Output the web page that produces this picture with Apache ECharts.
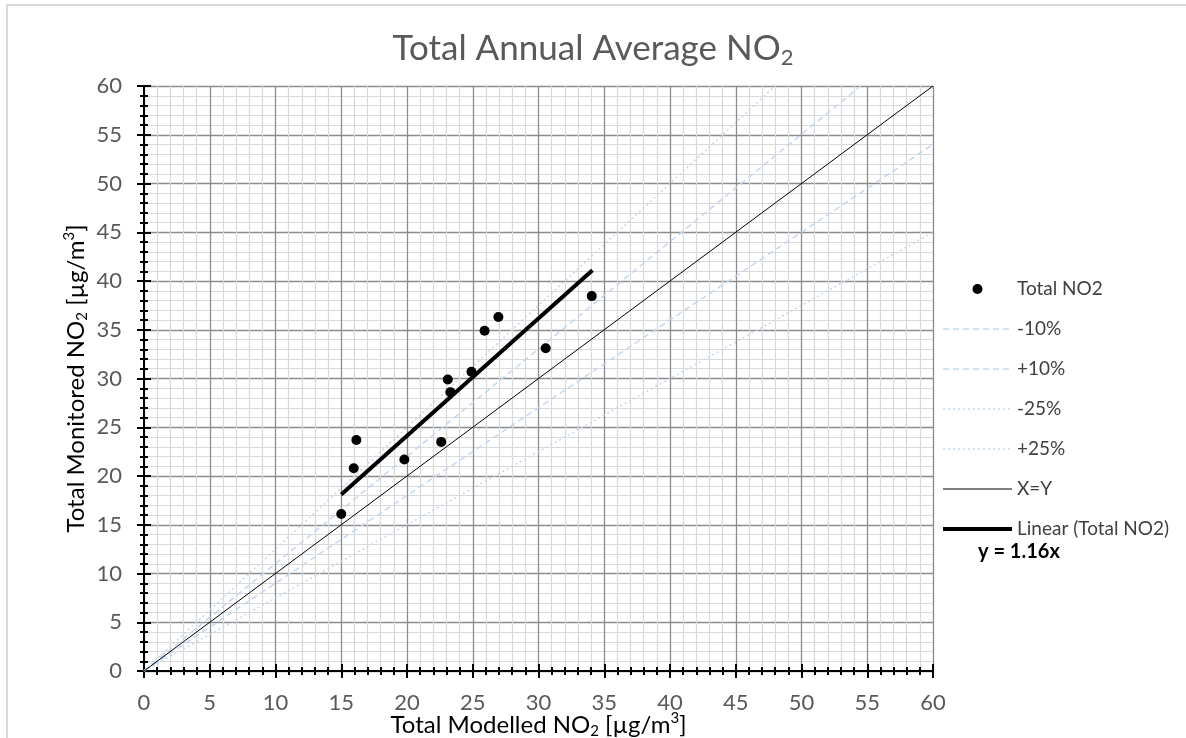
<!DOCTYPE html>
<html>
<head>
<meta charset="utf-8">
<script src="https://cdn.jsdelivr.net/npm/echarts@6/dist/echarts.min.js"></script>
<style>
  html, body { margin: 0; padding: 0; background: #fff; }
  #chart { width: 1186px; height: 738px; }
</style>
</head>
<body>
<div id="chart"></div>
<script>
// measured points (x = modelled, y = monitored)
const modelled = [15.0, 15.95, 16.15, 19.8, 22.6, 23.1, 23.3, 24.9, 25.9, 26.95, 30.55, 34.05]
const monitored = [16.1, 20.8, 23.7, 21.7, 23.5, 29.9, 28.6, 30.7, 34.9, 36.3, 33.1, 38.45]

// reference lines, start and end points
const minus10X = [0, 60], minus10Y = [0, 54]
const plus10X = [0, 54.5], plus10Y = [0, 60]
const minus25X = [0, 60], minus25Y = [0, 45]
const plus25X = [0, 48], plus25Y = [0, 60]
const xyX = [0, 60], xyY = [0, 60]
const trendX = [15, 34.1], trendY = [18.1, 41.1]

const axisTicks = [0, 5, 10, 15, 20, 25, 30, 35, 40, 45, 50, 55, 60]
const legendNames = ['Total NO2', '-10%', '+10%', '-25%', '+25%', 'X=Y', 'Linear (Total NO2)']

const FONT = 'Lato'
const pairs = (xs, ys) => xs.map((x, i) => [x, ys[i]])

const nameRich = {
  a: { fontFamily: FONT, fontSize: 24, lineHeight: 28, color: '#000' },
  s: { fontFamily: FONT, fontSize: 15, lineHeight: 15, verticalAlign: 'bottom', color: '#000' },
  p: { fontFamily: FONT, fontSize: 15, lineHeight: 15, verticalAlign: 'top', color: '#000' }
}

function mainAxis(name, extra) {
  return Object.assign({
    type: 'value',
    min: axisTicks[0],
    max: axisTicks[axisTicks.length - 1],
    interval: 5,
    name: name,
    nameLocation: 'middle',
    nameMoveOverlap: false,
    nameTextStyle: { rich: nameRich },
    axisLine: { show: true, onZero: false, lineStyle: { color: '#000', width: 2 } },
    axisTick: { show: true, length: 7, lineStyle: { color: '#000', width: 2 } },
    minorTick: { show: true, splitNumber: 5, length: 4, lineStyle: { color: '#000', width: 2 } },
    splitLine: { show: true, lineStyle: { color: '#8c8c8c', width: 1.3 } },
    minorSplitLine: { show: true, lineStyle: { color: '#d9d9d9', width: 1.2 } },
    axisLabel: { fontFamily: FONT, fontSize: 22, color: '#595959' }
  }, extra)
}

// twin axis only for the inward half of the crossing ticks
function innerAxis(extra) {
  return Object.assign({
    type: 'value',
    min: axisTicks[0],
    max: axisTicks[axisTicks.length - 1],
    interval: 5,
    axisLine: { show: false },
    axisTick: { show: true, inside: true, length: 7, lineStyle: { color: '#000', width: 2 } },
    minorTick: { show: true, splitNumber: 5, length: 4, lineStyle: { color: '#000', width: 2 } },
    splitLine: { show: false },
    minorSplitLine: { show: false },
    axisLabel: { show: false }
  }, extra)
}

function refLine(name, xs, ys, color, width, type) {
  return {
    name: name,
    type: 'line',
    data: pairs(xs, ys),
    symbol: 'none',
    lineStyle: { color: color, width: width, type: type },
    itemStyle: { color: color },
    silent: true
  }
}

const seriesList = [
  refLine('-10%', minus10X, minus10Y, '#c3d7ef', 1.5, [6, 4]),
  refLine('+10%', plus10X, plus10Y, '#c3d7ef', 1.5, [6, 4]),
  refLine('-25%', minus25X, minus25Y, '#c3d7ef', 1.5, [2, 3]),
  refLine('+25%', plus25X, plus25Y, '#c3d7ef', 1.5, [2, 3]),
  refLine('X=Y', xyX, xyY, '#000', 1, 'solid'),
  refLine('Linear (Total NO2)', trendX, trendY, '#000', 4, 'solid'),
  {
    name: 'Total NO2',
    type: 'scatter',
    data: pairs(modelled, monitored),
    symbol: 'circle',
    symbolSize: 10,
    itemStyle: { color: '#000', opacity: 1 },
    z: 5
  }
]

// legend lines keep their series width (legend would cap it at 2 otherwise)
const legendData = legendNames.map(n => {
  const s = seriesList.find(x => x.name === n)
  if (s.type === 'scatter') return { name: n }
  return { name: n, itemStyle: { opacity: 0 }, lineStyle: { width: s.lineStyle.width, type: s.lineStyle.type, color: s.lineStyle.color } }
})

const chart = echarts.init(document.getElementById('chart'))
chart.setOption({
  animation: false,
  backgroundColor: '#fff',
  title: {
    text: '{a|Total Annual Average NO}{s|2}',
    left: 'center',
    top: 24,
    textStyle: {
      fontWeight: 'normal',
      rich: {
        a: { fontFamily: FONT, fontSize: 35, fontWeight: 'normal', lineHeight: 40, color: '#595959' },
        s: { fontFamily: FONT, fontSize: 22, fontWeight: 'normal', lineHeight: 21, verticalAlign: 'bottom', color: '#595959' }
      }
    }
  },
  grid: { left: 144, right: 253, top: 86, bottom: 67, outerBoundsMode: 'none', containLabel: false },
  xAxis: [
    mainAxis('{a|Total Modelled NO}{s|2}{a| [µg/m}{p|3}{a|]}', {
      position: 'bottom',
      nameGap: 40,
      axisLabel: { fontFamily: FONT, fontSize: 22, color: '#595959', margin: 21 }
    }),
    innerAxis({ position: 'bottom' })
  ],
  yAxis: [
    mainAxis('{a|Total Monitored NO}{s|2}{a| [µg/m}{p|3}{a|]}', {
      position: 'left',
      nameGap: 54,
      axisLabel: { fontFamily: FONT, fontSize: 22, color: '#595959', margin: 22 }
    }),
    innerAxis({ position: 'left' })
  ],
  legend: {
    orient: 'vertical',
    left: 936,
    top: 274,
    itemWidth: 69,
    itemHeight: 10,
    itemGap: 20,
    textStyle: { fontFamily: FONT, fontSize: 19, lineHeight: 20, color: '#404040' },
    data: legendData
  },
  graphic: [
    {
      type: 'rect',
      shape: { x: 7, y: 5, width: 1300, height: 900 },
      style: { fill: 'none', stroke: '#d9d9d9', lineWidth: 2 },
      silent: true
    },
    {
      type: 'text',
      left: 978,
      top: 542,
      style: { text: 'y = 1.16x', fontFamily: FONT, fontSize: 20, fontWeight: 'bold', fill: '#000' }
    }
  ],
  series: seriesList
})
</script>
</body>
</html>
